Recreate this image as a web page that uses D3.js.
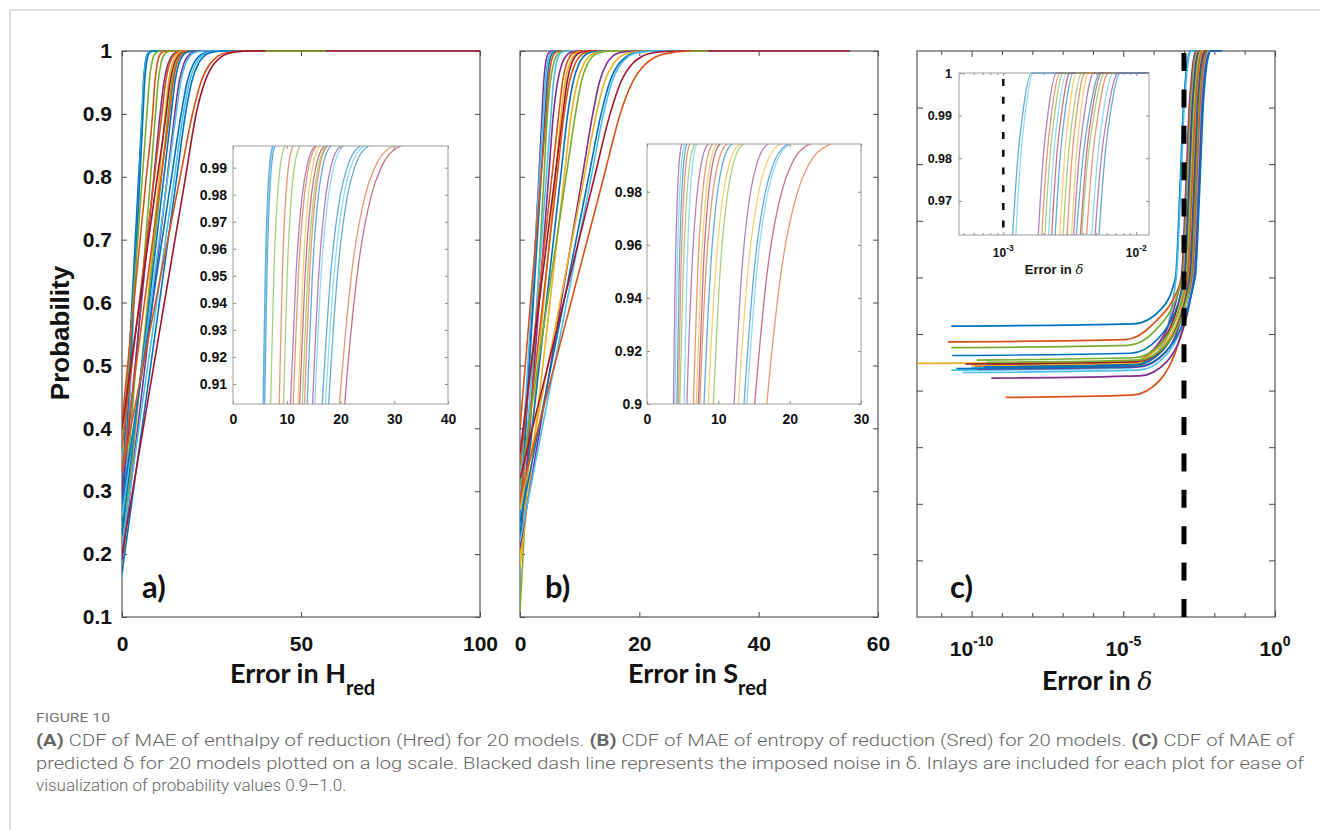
<!DOCTYPE html>
<html><head><meta charset="utf-8">
<script src="https://cdn.jsdelivr.net/npm/d3@7"></script>
<style>body{margin:0;background:#fff;} svg{display:block}</style>
</head><body>
<svg id="chart" width="1320" height="830"></svg>
<script>
// ---------- colours (MATLAB default order) ----------
const palette = {B:"#0072BD",O:"#D95319",Y:"#EDB120",P:"#7E2F8E",G:"#77AC30",C:"#4DBEEE",R:"#A2142F"};

// ---------- panel (a): Error in H_red ----------
const aColorKeys = ["B","C","B","G","O","G","P","O","Y","R","G","O","B","P","C","B","C","B","O","R"];
const aStartP = [0.30,0.16,0.24,0.36,0.41,0.22,0.29,0.37,0.17,0.40,0.20,0.33,0.23,0.19,0.26,0.28,0.21,0.17,0.33,0.20];
const aLevels = [0.8,0.9026,0.95,0.98,0.99,0.998,0.9999,1];
const aX = [
 [4.65,5.6,5.99,6.46,6.77,7.4,8.35,34],
 [4.91,5.7,6.09,6.56,6.87,7.5,8.45,34],
 [4.99,5.9,6.32,6.81,7.14,7.8,8.81,34],
 [5.68,7.0,7.59,8.29,8.76,9.7,11.13,35],
 [6.81,8.6,9.17,9.84,10.29,11.2,12.58,35],
 [7.99,9.4,10.08,10.88,11.42,12.5,14.14,36],
 [8.91,10.7,11.71,12.9,13.69,15.3,17.74,36],
 [9.04,11.2,12.16,13.3,14.06,15.6,17.93,36],
 [10.41,12.1,13.0,14.06,14.77,16.2,18.37,37],
 [9.87,12.4,13.41,14.6,15.39,17.0,19.44,100],
 [11.02,12.9,13.89,15.05,15.83,17.4,19.79,57],
 [10.92,13.3,14.24,15.36,16.1,17.6,19.88,38],
 [11.7,13.8,14.76,15.9,16.66,18.2,20.53,38],
 [12.67,14.8,15.94,17.29,18.18,20.0,22.76,38],
 [12.77,15.2,16.38,17.78,18.71,20.6,23.46,38],
 [13.86,16.6,18.15,19.99,21.22,23.7,27.46,39],
 [14.65,17.2,18.78,20.64,21.88,24.4,28.22,39],
 [15.31,17.8,19.42,21.34,22.61,25.2,29.12,40],
 [16.25,19.8,22.01,24.63,26.37,29.9,35.25,40],
 [17.76,20.8,23.08,25.77,27.56,31.2,36.71,40]
];
const aXTicks = [0,50,100];
const probTicks = [0.1,0.2,0.3,0.4,0.5,0.6,0.7,0.8,0.9,1];
const aInsetXTicks = [0,10,20,30,40];
const aInsetYTicks = [0.91,0.92,0.93,0.94,0.95,0.96,0.97,0.98,0.99];

// ---------- panel (b): Error in S_red ----------
const bColorKeys = ["P","C","B","O","G","C","P","O","Y","R","O","B","Y","G","P","Y","B","C","R","O"];
const bStartP = [0.22,0.30,0.26,0.40,0.11,0.24,0.20,0.34,0.19,0.36,0.28,0.23,0.18,0.31,0.21,0.27,0.25,0.22,0.32,0.29];
const bLevels = [0.8,0.9,0.95,0.98,0.99,0.998,0.9999,1];
const bX = [
 [3.16,3.7,3.97,4.28,4.48,4.9,5.53,26],
 [3.25,3.9,4.22,4.58,4.82,5.3,6.04,26],
 [3.54,4.2,4.52,4.88,5.12,5.6,6.34,26],
 [3.52,4.4,4.76,5.17,5.45,6.0,6.84,26],
 [4.02,4.6,5.08,5.62,5.97,6.7,7.81,26],
 [4.41,5.2,5.61,6.07,6.38,7.0,7.95,26],
 [4.8,5.6,6.28,7.05,7.56,8.6,10.18,27],
 [5.34,6.5,7.11,7.81,8.27,9.2,10.63,27],
 [5.93,6.9,7.56,8.3,8.8,9.8,11.33,27],
 [5.87,7.2,7.88,8.65,9.16,10.2,11.78,55.3],
 [6.21,7.4,8.26,9.24,9.89,11.2,13.21,27],
 [6.81,8.0,8.89,9.89,10.55,11.9,13.96,27],
 [7.41,8.6,9.6,10.73,11.48,13.0,15.32,27],
 [7.72,9.3,10.25,11.33,12.05,13.5,15.72,31.5],
 [10.43,12.2,13.29,14.52,15.34,17.0,19.53,27],
 [10.77,12.8,14.14,15.66,16.66,18.7,21.82,27],
 [11.51,13.6,15.01,16.6,17.65,19.8,23.07,27.5],
 [11.94,14.0,15.38,16.95,17.99,20.1,23.32,27.5],
 [12.5,15.1,16.87,18.88,20.2,22.9,27.02,28],
 [14.05,16.8,18.82,21.11,22.62,25.7,28.5,28.6]
];
const bXTicks = [0,20,40,60];
const bInsetXTicks = [0,10,20,30];
const bInsetYTicks = [0.9,0.92,0.94,0.96,0.98];

// ---------- panel (c): Error in delta (x values stored as log10 of the error) ----------
const cColorKeys = ["B","C","P","O","G","C","R","B","Y","G","O","Y","P","B","R","G","O","C","P","B"];
const cStartLog = [-10.67,-10.67,-9.9,-10.78,-10.67,-10.0,-9.5,-10.64,-12.2,-9.83,-9.3,-10.0,-9.8,-9.6,-10.2,-9.5,-8.88,-10.3,-9.35,-10.5];
const cStartP   = [0.514,0.436,0.443,0.486,0.476,0.440,0.445,0.462,0.448,0.454,0.441,0.444,0.438,0.442,0.447,0.450,0.388,0.432,0.422,0.439];
const cBendLog  = [-4.65,-4.8,-4.9,-4.95,-4.85,-4.75,-4.8,-4.75,-4.7,-4.65,-4.6,-4.65,-4.5,-4.6,-4.55,-4.5,-4.7,-4.5,-4.45,-4.5];
const cBendP    = [0.518,0.440,0.447,0.490,0.480,0.444,0.449,0.466,0.452,0.458,0.445,0.448,0.442,0.446,0.451,0.454,0.392,0.436,0.426,0.443];
const cKneeLog  = [-3.75,-3.9,-4.0,-4.05,-3.95,-3.85,-3.9,-3.85,-3.8,-3.75,-3.7,-3.75,-3.6,-3.7,-3.65,-3.6,-3.8,-3.6,-3.55,-3.6];
const cKneeP    = [0.544,0.466,0.473,0.516,0.506,0.470,0.475,0.492,0.478,0.484,0.471,0.474,0.468,0.472,0.477,0.480,0.418,0.462,0.452,0.469];
const cLevels = [0.6,0.76,0.9,0.962,0.97,0.98,0.99,1,1];
const cXLog = [
 [-3.28,-3.13,-3.02,-2.93,-2.914,-2.891,-2.856,-2.787,-1.75],
 [-3.255,-3.105,-2.995,-2.905,-2.891,-2.87,-2.837,-2.774,-1.75],
 [-3.087,-2.937,-2.827,-2.737,-2.722,-2.7,-2.666,-2.6,-1.75],
 [-3.06,-2.91,-2.8,-2.71,-2.695,-2.673,-2.639,-2.574,-1.75],
 [-3.037,-2.887,-2.777,-2.687,-2.672,-2.65,-2.615,-2.549,-1.75],
 [-3.01,-2.86,-2.75,-2.66,-2.645,-2.623,-2.589,-2.523,-1.75],
 [-2.986,-2.836,-2.726,-2.636,-2.621,-2.599,-2.564,-2.498,-1.75],
 [-2.96,-2.81,-2.7,-2.61,-2.595,-2.573,-2.539,-2.474,-1.75],
 [-2.924,-2.774,-2.664,-2.574,-2.56,-2.54,-2.508,-2.448,-1.75],
 [-2.9,-2.75,-2.64,-2.55,-2.535,-2.512,-2.477,-2.41,-1.75],
 [-2.87,-2.72,-2.61,-2.52,-2.505,-2.484,-2.45,-2.386,-1.75],
 [-2.836,-2.686,-2.576,-2.486,-2.472,-2.452,-2.42,-2.36,-1.75],
 [-2.82,-2.67,-2.56,-2.47,-2.454,-2.43,-2.392,-2.32,-1.75],
 [-2.8,-2.65,-2.54,-2.45,-2.43,-2.401,-2.356,-2.27,-1.75],
 [-2.77,-2.62,-2.51,-2.42,-2.402,-2.377,-2.337,-2.26,-1.75],
 [-2.76,-2.61,-2.5,-2.41,-2.391,-2.363,-2.319,-2.235,-1.75],
 [-2.723,-2.573,-2.463,-2.373,-2.355,-2.329,-2.288,-2.21,-1.75],
 [-2.685,-2.535,-2.425,-2.335,-2.317,-2.291,-2.251,-2.173,-1.75],
 [-2.66,-2.51,-2.4,-2.31,-2.291,-2.263,-2.219,-2.135,-1.75],
 [-2.63,-2.48,-2.37,-2.28,-2.262,-2.237,-2.197,-2.12,-1.75]
];
const cNoiseLevel = 1e-3;
const cMajorExp = [-10,-5,0];
const cMinorExp = [-11,-9,-8,-7,-6,-4,-3,-2,-1];
const cYTicks = [0.1,0.2,0.3,0.4,0.5,0.6,0.7,0.8,0.9];
const cInsetYTicks = [0.97,0.98,0.99,1];
const cInsetMajor = [1e-3,1e-2];
const cInsetMinor = [5e-4,6e-4,7e-4,8e-4,9e-4,2e-3,3e-3,4e-3,5e-3,6e-3,7e-3,8e-3,9e-3];

// ---------- caption ----------
const captionTitle = "FIGURE 10";
const captionLines = [
 [["(A)",true],[" CDF of MAE of enthalpy of reduction (Hred) for 20 models. ",false],["(B)",true],[" CDF of MAE of entropy of reduction (Sred) for 20 models. ",false],["(C)",true],[" CDF of MAE of",false]],
 [["predicted δ for 20 models plotted on a log scale. Blacked dash line represents the imposed noise in δ. Inlays are included for each plot for ease of",false]],
 [["visualization of probability values 0.9–1.0.",false]]
];

// ================= drawing =================
const svg = d3.select("#chart");
const defs = svg.append("defs");
const TICKFONT = "'Liberation Sans', Arial, sans-serif";
const LABELFONT = "Lato, 'Open Sans', sans-serif";

// figure frame
svg.append("path").attr("d","M10,830 V10 H1320").attr("fill","none").attr("stroke","#d4d4d4").attr("stroke-width",1.5);

function seriesFrom(x0, p0, levels, row){
  return [[x0,p0]].concat(row.map((x,i)=>[x,levels[i]]));
}
const aSeries = aX.map((row,i)=>({color:palette[aColorKeys[i]], pts:seriesFrom(0,aStartP[i],aLevels,row)}));
const bSeries = bX.map((row,i)=>({color:palette[bColorKeys[i]], pts:seriesFrom(0,bStartP[i],bLevels,row)}));
const cSeries = cXLog.map((row,i)=>({color:palette[cColorKeys[i]],
  pts:[[cStartLog[i],cStartP[i]],[cBendLog[i],cBendP[i]],[cKneeLog[i],cKneeP[i]]]
      .concat(row.map((x,j)=>[x,cLevels[j]])).map(d=>[Math.pow(10,d[0]),d[1]])}));

let clipN = 0;
function clip(x0,y0,x1,y1){
  const id = "clip"+(clipN++);
  defs.append("clipPath").attr("id",id).append("rect").attr("x",x0).attr("y",y0).attr("width",x1-x0).attr("height",y1-y0);
  return "url(#"+id+")";
}

function styleAxis(g, size, color, weight){
  g.select(".domain").remove();
  g.selectAll(".tick line").attr("stroke",color).attr("stroke-width",1);
  g.selectAll(".tick text").attr("font-family",TICKFONT).attr("font-size",size).attr("font-weight",weight).attr("fill","#111");
}

function frame(x, y, o){
  const [x0,x1] = x.range(), y0 = y.range()[1], yB = y.range()[0];
  const g = svg.append("g");
  const tl = o.tick || 5;
  const bot = g.append("g").attr("transform",`translate(0,${yB})`)
    .call(d3.axisBottom(x).tickValues(o.xTicks).tickSizeInner(-tl).tickSizeOuter(0).tickPadding(o.xPad).tickFormat(o.xLabels ? (d=>String(d)) : ""));
  styleAxis(bot, o.fs, o.tickColor, "bold");
  const top = g.append("g").attr("transform",`translate(0,${y0})`)
    .call(d3.axisTop(x).tickValues(o.xTicks).tickSizeInner(-tl).tickSizeOuter(0).tickFormat(""));
  styleAxis(top, o.fs, o.tickColor, "bold");
  if(o.xMinor){
    [[yB,d3.axisBottom],[y0,d3.axisTop]].forEach(([ty,ax])=>{
      const m = g.append("g").attr("transform",`translate(0,${ty})`)
        .call(ax(x).tickValues(o.xMinor).tickSizeInner(-(o.minorTick||3)).tickSizeOuter(0).tickFormat(""));
      styleAxis(m, o.fs, o.tickColor, "bold");
    });
  }
  const left = g.append("g").attr("transform",`translate(${x0},0)`)
    .call(d3.axisLeft(y).tickValues(o.yTicks).tickSizeInner(-tl).tickSizeOuter(0).tickPadding(o.yPad||8).tickFormat(o.yLabels ? (d=>String(+d.toFixed(4))) : ""));
  styleAxis(left, o.fs, o.tickColor, "bold");
  const right = g.append("g").attr("transform",`translate(${x1},0)`)
    .call(d3.axisRight(y).tickValues(o.yTicks).tickSizeInner(-tl).tickSizeOuter(0).tickFormat(""));
  styleAxis(right, o.fs, o.tickColor, "bold");
  g.append("rect").attr("x",x0).attr("y",y0).attr("width",x1-x0).attr("height",yB-y0)
    .attr("fill","none").attr("stroke",o.boxColor).attr("stroke-width",o.boxWidth||1.2);
  return g;
}

function drawLines(series, x, y, clipUrl, width, opacity){
  const line = d3.line().x(d=>x(d[0])).y(d=>y(d[1])).curve(d3.curveMonotoneX);
  const g = svg.append("g").attr("clip-path",clipUrl);
  g.selectAll("path").data(series).join("path")
    .attr("d",d=>line(d.pts)).attr("fill","none")
    .attr("stroke",d=>d.color).attr("stroke-width",width).attr("stroke-opacity",opacity)
    .attr("stroke-linejoin","round");
  return g;
}

function insetBg(x,y){
  svg.append("rect").attr("x",x.range()[0]).attr("y",y.range()[1]).attr("width",x.range()[1]-x.range()[0])
    .attr("height",y.range()[0]-y.range()[1]).attr("fill","#fff");
}

function logLabel(xpos, ypos, exp, fs, ss, dy){
  const t = svg.append("text").attr("x",xpos).attr("y",ypos).attr("text-anchor","middle")
    .attr("font-family",TICKFONT).attr("font-weight","bold").attr("font-size",fs).attr("fill","#111");
  t.append("tspan").text("10");
  t.append("tspan").attr("font-size",ss).attr("dy",-dy).text(exp);
}

// ---------- panel a ----------
const xa = d3.scaleLinear([0,100],[122,480]);
const ya = d3.scaleLinear([0.1,1],[617,51]);
frame(xa, ya, {xTicks:aXTicks, yTicks:probTicks, xLabels:true, yLabels:true, xPad:19, yPad:10, fs:21, tickColor:"#444", boxColor:"#555"});
drawLines(aSeries, xa, ya, clip(122,48,481,617), 1.6, 1);

const xai = d3.scaleLinear([0,40],[233,448]);
const yai = d3.scaleLinear([0.9026,0.998],[404,146]);
insetBg(xai, yai);
drawLines(aSeries, xai, yai, clip(233,146,448,404), 1.3, 0.6);
frame(xai, yai, {xTicks:aInsetXTicks, yTicks:aInsetYTicks, xLabels:true, yLabels:true, xPad:10, yPad:6, fs:14, tick:3, tickColor:"#888", boxColor:"#999", boxWidth:1});

// ---------- panel b ----------
const xb = d3.scaleLinear([0,60],[520,878]);
const yb = d3.scaleLinear([0.1,1],[617,51]);
frame(xb, yb, {xTicks:bXTicks, yTicks:probTicks, xLabels:true, yLabels:false, xPad:19, fs:21, tickColor:"#444", boxColor:"#555"});
drawLines(bSeries, xb, yb, clip(520,48,879,617), 1.6, 1);

const xbi = d3.scaleLinear([0,30],[647,861]);
const ybi = d3.scaleLinear([0.9,0.998],[404,144]);
insetBg(xbi, ybi);
drawLines(bSeries, xbi, ybi, clip(647,144,861,404), 1.3, 0.6);
frame(xbi, ybi, {xTicks:bInsetXTicks, yTicks:bInsetYTicks, xLabels:true, yLabels:true, xPad:10, yPad:5, fs:14, tick:3, tickColor:"#888", boxColor:"#999", boxWidth:1});

// ---------- panel c ----------
const xc = d3.scaleLog([Math.pow(10,-11.8),1],[917,1275]);
const yc = d3.scaleLinear([0,1],[617,51]);
frame(xc, yc, {xTicks:cMajorExp.map(e=>Math.pow(10,e)), xMinor:cMinorExp.map(e=>Math.pow(10,e)), minorTick:4, tick:6,
  yTicks:cYTicks, xLabels:false, yLabels:false, xPad:19, fs:21, tickColor:"#444", boxColor:"#555"});
drawLines(cSeries, xc, yc, clip(917,48,1275,617), 1.7, 1);
svg.append("line").attr("x1",xc(cNoiseLevel)).attr("x2",xc(cNoiseLevel)).attr("y1",53).attr("y2",617)
  .attr("stroke","#000").attr("stroke-width",5).attr("stroke-dasharray","18 18.4");
cMajorExp.forEach(e=>logLabel(xc(Math.pow(10,e)), 656, String(e), 21, 14, 10));

const xci = d3.scaleLog([Math.pow(10,-3.333),Math.pow(10,-1.904)],[959,1149]);
const yci = d3.scaleLinear([0.962,1],[235,73]);
insetBg(xci, yci);
drawLines(cSeries, xci, yci, clip(959,71,1149,235), 1.3, 0.6);
svg.append("line").attr("x1",xci(cNoiseLevel)).attr("x2",xci(cNoiseLevel)).attr("y1",79).attr("y2",235)
  .attr("stroke","#111").attr("stroke-width",2.6).attr("stroke-dasharray","7 10.7");
frame(xci, yci, {xTicks:cInsetMajor, xMinor:cInsetMinor, minorTick:2, tick:3, yTicks:cInsetYTicks, xLabels:false, yLabels:true,
  xPad:8, yPad:7, fs:12.5, tickColor:"#888", boxColor:"#999", boxWidth:1});
cInsetMajor.forEach(v=>logLabel(xci(v), 257, String(Math.round(Math.log10(v))), 12, 8.5, 6));
{
  const t = svg.append("text").attr("x",1054).attr("y",274).attr("text-anchor","middle")
    .attr("font-family",TICKFONT).attr("font-weight","bold").attr("font-size",13).attr("fill","#111");
  t.append("tspan").text("Error in ");
  t.append("tspan").attr("font-family","'DejaVu Serif', serif").attr("font-style","italic").attr("font-weight","normal").text("δ");
}

// ---------- axis labels ----------
svg.append("text").attr("transform","translate(69,333) rotate(-90)").attr("text-anchor","middle")
  .attr("font-family",TICKFONT).attr("font-weight","bold").attr("font-size",26).attr("fill","#111").text("Probability");

function xTitle(x, y, main, sub, italicLast){
  const t = svg.append("text").attr("x",x).attr("y",y).attr("font-family",LABELFONT).attr("font-weight","bold")
    .attr("font-size",27).attr("fill","#111");
  t.append("tspan").text(main);
  if(sub) t.append("tspan").attr("font-size",20).attr("dy",12).text(sub);
  if(italicLast){ t.append("tspan").attr("font-family","'DejaVu Serif', serif").attr("font-style","italic").attr("font-weight","normal").attr("font-size",25).text(italicLast); }
}
xTitle(230, 683, "Error in H", "red");
xTitle(628, 683, "Error in S", "red");
xTitle(1042, 690, "Error in ", null, "δ");

[["a)",142],["b)",545],["c)",950]].forEach(([s,x])=>{
  svg.append("text").attr("x",x).attr("y",598).attr("font-family",LABELFONT).attr("font-weight","bold")
    .attr("font-size",31).attr("fill","#111").text(s);
});

// ---------- caption ----------
const CAPFONT = "'Liberation Sans Narrow', 'Roboto', sans-serif";
const capX = 36;
svg.append("text").attr("x",capX).attr("y",722).attr("font-family",CAPFONT).attr("font-size",13).attr("fill","#777")
  .attr("textLength",74).attr("lengthAdjust","spacingAndGlyphs").text(captionTitle);
const capY = [746,769,791];
const capW = [1258,1268,null];
captionLines.forEach((parts,i)=>{
  const t = svg.append("text").attr("x",capX).attr("y",capY[i]).attr("font-family",CAPFONT).attr("font-size",17).attr("fill","#666");
  if(capW[i]) t.attr("textLength",capW[i]).attr("lengthAdjust","spacingAndGlyphs");
  parts.forEach(([s,b])=>t.append("tspan").attr("font-weight",b?"bold":"300").text(s));
});
</script>
</body></html>
